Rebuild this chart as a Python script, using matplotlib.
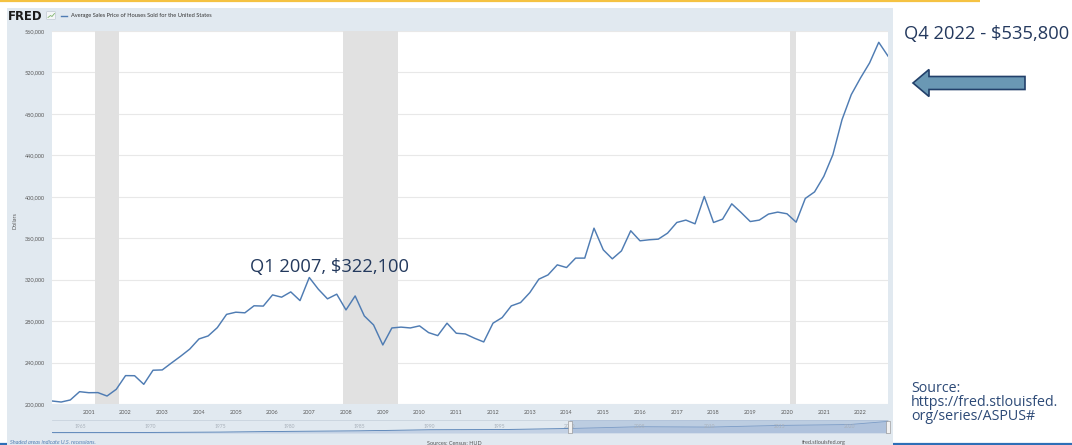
import matplotlib
matplotlib.use("Agg")
import matplotlib.pyplot as plt
import matplotlib.patches as mpatches
import matplotlib.transforms as mtrans
import pandas as pd

# ---------------- data ----------------
quarters = pd.date_range("2000-01-01", "2022-10-01", freq="QS")
prices = [
    202900, 201900, 203900, 211900,   # 2000
    210900, 211000, 207700, 214200,   # 2001
    227400, 227300, 219000, 232600,   # 2002
    232900, 239500, 246000, 253000,   # 2003
    262800, 265700, 273700, 286500,   # 2004
    288600, 288000, 294800, 294500,   # 2005
    305300, 303100, 308200, 299800,   # 2006
    322100, 310800, 301500, 306000,   # 2007
    290800, 304300, 285000, 276300,   # 2008
    257000, 273400, 274200, 273400,   # 2009
    275400, 268900, 266000, 278000,   # 2010
    268300, 267600, 263500, 259900,   # 2011
    278000, 283400, 294700, 297900,   # 2012
    307500, 320500, 324600, 334300,   # 2013
    331700, 340800, 340800, 369700,   # 2014
    348800, 340100, 347800, 367200,   # 2015
    357500, 358500, 359100, 364900,   # 2016
    375200, 377500, 373900, 400300,   # 2017
    375200, 378400, 393200, 384900,   # 2018
    376100, 377500, 383300, 385200,   # 2019
    383600, 375500, 398400, 404700,   # 2020
    419700, 440600, 474400, 498600,   # 2021
    514700, 529200, 549100, 535800,   # 2022
]
recession_starts = ["2001-03-01", "2007-12-01", "2020-02-01"]
recession_ends = ["2001-11-01", "2009-06-01", "2020-04-01"]
y_ticks = [200000, 240000, 280000, 320000, 360000, 400000, 440000, 480000, 520000, 560000]
year_ticks = list(range(2001, 2023))

nav_years = [1963, 1965, 1970, 1975, 1980, 1985, 1990, 1995, 2000, 2005, 2010, 2015, 2020, 2022.75]
nav_values = [19300, 21500, 26600, 42600, 76400, 100800, 149800, 158700, 207000, 290000, 272900, 350000, 390000, 535800]
nav_label_years = [1965, 1970, 1975, 1980, 1985, 1990, 1995, 2000, 2005, 2010, 2015, 2020]

title = "Average Sales Price of Houses Sold for the United States"
peak_label = "Q1 2007, $322,100"
latest_label = "Q4 2022 - $535,800"
source_label = "Source:\nhttps://fred.stlouisfed.\norg/series/ASPUS#"

# ---------------- figure ----------------
W, H = 1072, 445
fig = plt.figure(figsize=(W / 100, H / 100), dpi=100)
fig.patch.set_facecolor("white")


def rect(x0, y0, x1, y1):
    return [x0 / W, 1 - y1 / H, (x1 - x0) / W, (y1 - y0) / H]


bg = fig.add_axes([0, 0, 1, 1], zorder=0)
bg.set_xlim(0, W)
bg.set_ylim(H, 0)
bg.axis("off")
bg.patch.set_alpha(0)

# slide decorations
bg.plot([0, W], [443.5, 443.5], color="#2e6fb7", lw=1.6, zorder=0.5, solid_capstyle="butt")
bg.plot([0, 980], [0.8, 0.8], color="#f5c242", lw=1.6, zorder=0.5, solid_capstyle="butt")
bg.add_patch(mpatches.Rectangle((7, 8), 886, 440, fc="#e1e9f0", ec="none", zorder=1))

# FRED header
bg.text(7.5, 16.5, "FRED", fontsize=8.4, fontweight="bold", family="DejaVu Sans",
        color="#1a1a1a", va="center", ha="left", zorder=3)
bg.add_patch(mpatches.FancyBboxPatch((47, 12), 8, 7, boxstyle="round,pad=0.3",
                                     fc="#f4f6f8", ec="#b8c2cc", lw=0.4, zorder=3))
bg.plot([48, 50.5, 52, 54.5], [17.5, 15.5, 16.5, 13.5], color="#7db36a", lw=0.6, zorder=4)
bg.plot([61, 67], [16, 16], color="#4f7cb3", lw=1.0, zorder=3)
bg.text(71, 16, title, fontsize=4.1, family="Lato", color="#333333",
        va="center", ha="left", zorder=3)
bg.text(15, 221, "Dollars", fontsize=4, family="Lato", color="#595959",
        rotation=90, va="center", ha="center", zorder=3)

# footer texts of FRED panel
bg.text(10, 442.5, "Shaded areas indicate U.S. recessions.", fontsize=4, family="Lato",
        style="italic", color="#4f7db3", va="center", ha="left", zorder=3)
bg.text(427, 442.5, "Sources: Census; HUD", fontsize=4, family="Lato",
        color="#555555", va="center", ha="left", zorder=3)
bg.text(802, 442.5, "fred.stlouisfed.org", fontsize=4, family="Lato",
        color="#555555", va="center", ha="left", zorder=3)

# navigator top border
bg.plot([52, 888], [420, 420], color="#c9d3dd", lw=0.6, zorder=2)

# right-side annotations
bg.text(904, 34, latest_label, fontsize=13.2, family="Open Sans", color="#24395e",
        va="center", ha="left", zorder=3)
arrow = mpatches.FancyArrow(1025, 83, -112, 0, width=13, head_width=27, head_length=16,
                            length_includes_head=True, fc="#6a98b4", ec="#22406a",
                            lw=1.2, zorder=3)
bg.add_patch(arrow)
bg.text(911, 381, source_label, fontsize=10.3, family="Open Sans", color="#2d4a77",
        va="top", ha="left", linespacing=0.9, zorder=3)

# ---------------- main chart ----------------
ax = fig.add_axes(rect(52, 31, 888, 404), zorder=2)
ax.set_facecolor("white")
for s in ax.spines.values():
    s.set_visible(False)

for s, e in zip(recession_starts, recession_ends):
    ax.axvspan(pd.Timestamp(s), pd.Timestamp(e), color="#e1e1e1", lw=0, zorder=1)

ax.plot(quarters, prices, color="#4f7cb3", lw=1.05, zorder=3)

ax.set_xlim(quarters[0], quarters[-1])
ax.set_ylim(y_ticks[0], y_ticks[-1])
ax.set_yticks(y_ticks)
ax.set_yticklabels([f"{v:,}" for v in y_ticks])
ax.set_xticks([pd.Timestamp(f"{y}-01-01") for y in year_ticks])
ax.set_xticklabels([str(y) for y in year_ticks])
ax.yaxis.grid(True, color="#e8e8e8", lw=0.8, zorder=0)
ax.set_axisbelow(True)
ax.tick_params(axis="y", length=0, labelsize=4, labelcolor="#595959", pad=5)
ax.tick_params(axis="x", length=0, labelsize=4, labelcolor="#595959", pad=4)
for lab in ax.get_xticklabels() + ax.get_yticklabels():
    lab.set_family("Lato")

peak_idx = prices.index(max(prices[:40]))
ax.annotate(peak_label, xy=(quarters[peak_idx], prices[peak_idx]),
            xytext=(20, 10), textcoords="offset pixels", ha="center", va="center",
            fontsize=13.2, family="Open Sans", color="#23395d", zorder=4)

# ---------------- navigator ----------------
nav = fig.add_axes(rect(52, 420, 888, 433), zorder=2)
nav.patch.set_alpha(0)
for s in nav.spines.values():
    s.set_visible(False)
nav.set_xlim(nav_years[0], nav_years[-1])
nav.set_ylim(0, 600000)
nav.set_xticks([])
nav.set_yticks([])
nav.fill_between(nav_years, nav_values, 0, color="#c3d1e4", lw=0, zorder=1)
nav.plot(nav_years, nav_values, color="#4f7cb3", lw=0.6, zorder=2)
nav.axvspan(2000, nav_years[-1], color="#9fb6d6", alpha=0.55, lw=0, zorder=3)
blend = mtrans.blended_transform_factory(nav.transData, nav.transAxes)
for y in nav_label_years:
    nav.text(y, 0.5, str(y), transform=blend, fontsize=3.6, family="Lato",
             color="#a9b1ba", ha="center", va="center", zorder=4)
handle = [(-1, -2.5), (1, -2.5), (1, 2.5), (-1, 2.5), (-1, -2.5)]
for hx in (2000, nav_years[-1]):
    nav.plot([hx], [0.5], transform=blend, marker=handle, markersize=8,
             mfc="#f2f2f2", mec="#8a8a8a", mew=0.4, zorder=5, clip_on=False)

fig.savefig("out.png", dpi=100)
